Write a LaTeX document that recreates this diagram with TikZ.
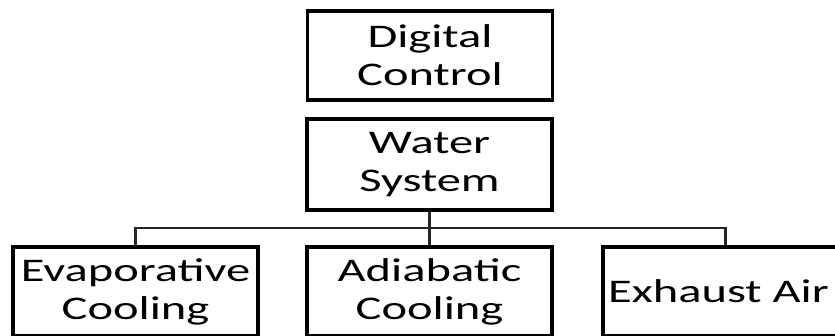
\documentclass[tikz,border=0pt]{standalone}
\usepackage{fontspec}
\setmainfont{Carlito}[FakeStretch=1.47]
\begin{document}
\begin{tikzpicture}[x=1pt,y=-1pt,
  box/.style={draw=black,line width=3.4pt,minimum width=245pt,minimum height=89pt,
    inner sep=0pt,align=center,font=\fontsize{33}{38}\selectfont},
  link/.style={draw=black!85,line width=2.2pt}]
\useasboundingbox (0,0) rectangle (835,336);
\clip (0,0) rectangle (835,336);
\node[box] (dc) at (430,55.5) {Digital\\Control};
\node[box,minimum height=91pt] (ws) at (429.5,164.5) {Water\\System};
\node[box] (evap) at (135.5,291.5) {Evaporative\\Cooling};
\node[box] (adi) at (429.5,291.5) {Adiabatic\\Cooling};
\node[box] (exh) at (725.5,291.5) {Exhaust Air\hspace*{14pt}};
\coordinate (bus) at (429.5,228);
\path[link] (ws.south) -- (adi.north);
\path[link] (evap.north) |- (bus) -| (exh.north);
\end{tikzpicture}
\end{document}
